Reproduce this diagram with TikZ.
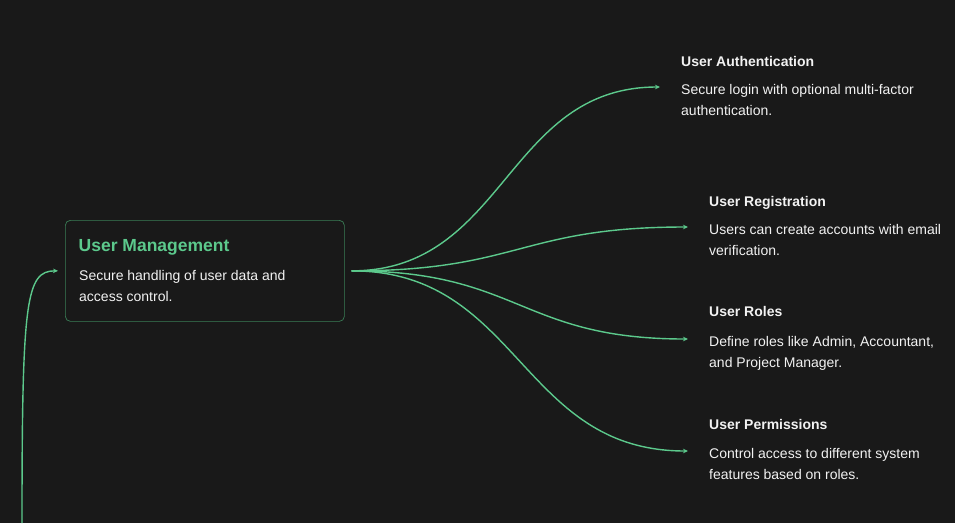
\documentclass[tikz,border=0pt]{standalone}
\usepackage{fontspec}
\setmainfont{Liberation Sans}
\usetikzlibrary{arrows.meta}
\definecolor{bgdark}{HTML}{191919}
\definecolor{mint}{HTML}{5CC98C}
\definecolor{mintdim}{HTML}{3A7D56}
\definecolor{paper}{HTML}{F2F2F2}
\tikzset{
  flow/.style={draw=mint, line width=1.4pt, -{Stealth[length=5pt,width=4.5pt]}},
  branchhead/.style={anchor=base west, inner sep=0pt, text=paper,
    font=\fontsize{14}{17}\selectfont\bfseries},
  branchtext/.style={anchor=north west, inner sep=0pt, align=left, text=paper,
    font=\fontsize{14}{21}\selectfont},
}
\begin{document}
\begin{tikzpicture}[x=1pt,y=-1pt]
  \fill[bgdark] (0,0) rectangle (955,523);
  \useasboundingbox (0,0) rectangle (955,523);
  % central box
  \node[draw=mintdim, line width=0.7pt, rounded corners=5pt, minimum width=279pt,
    minimum height=101pt, anchor=north west, inner sep=0pt] (um) at (65,220) {};
  \node[anchor=base west, inner sep=0pt, text=mint,
    font=\fontsize{17.5}{21}\selectfont\bfseries] (umtitle) at (78.5,251.7) {User Management};
  \node[branchtext] (umtext) at (79,270.5) {Secure handling of user data and\\access control.};
  \coordinate (hub) at ([xshift=7pt]um.east);
  \coordinate (feed) at (22,523);
  % branches
  \node[branchhead] (authhead) at (681,66) {User Authentication};
  \node[branchtext] (authtext) at (681,84) {Secure login with optional multi-factor\\authentication.};
  \node[branchhead] (reghead) at (709,206) {User Registration};
  \node[branchtext] (regtext) at (709,224) {Users can create accounts with email\\verification.};
  \node[branchhead] (rolehead) at (709,316.7) {User Roles};
  \node[branchtext] (roletext) at (709,336) {Define roles like Admin, Accountant,\\and Project Manager.};
  \node[branchhead] (permhead) at (709,429) {User Permissions};
  \node[branchtext] (permtext) at (709,448) {Control access to different system\\features based on roles.};
  % connectors
  \draw[flow] (feed) .. controls +(0,-223) and +(-32,0) .. ([xshift=-7pt]um.west);
  \draw[flow] (hub) .. controls +(154,0) and +(-154,0) .. ([xshift=-21pt,yshift=-3pt]authtext.north west);
  \draw[flow] (hub) .. controls +(168,0) and +(-168,0) .. ([xshift=-21pt,yshift=-3pt]regtext.north west);
  \draw[flow] (hub) .. controls +(168,0) and +(-168,0) .. ([xshift=-21pt,yshift=-3pt]roletext.north west);
  \draw[flow] (hub) .. controls +(168,0) and +(-168,0) .. ([xshift=-21pt,yshift=-3pt]permtext.north west);
\end{tikzpicture}
\end{document}
